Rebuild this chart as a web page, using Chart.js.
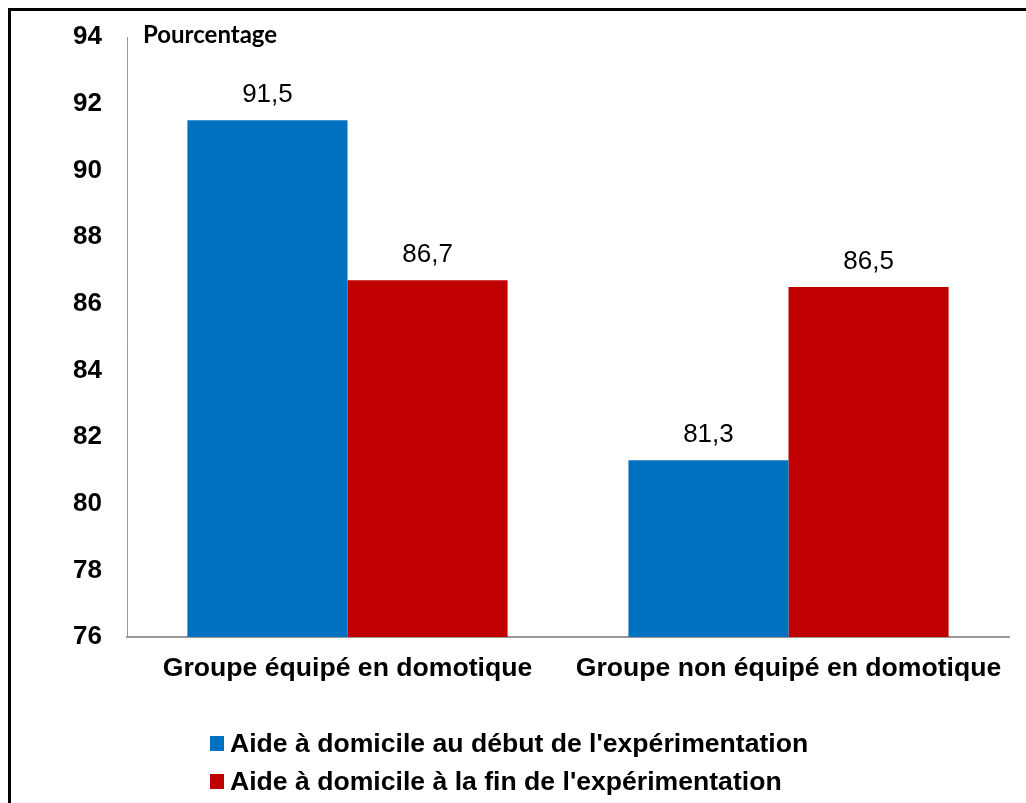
<!DOCTYPE html>
<html>
<head>
<meta charset="utf-8">
<script src="https://cdn.jsdelivr.net/npm/chart.js@4"></script>
<style>
    html, body { margin: 0; background: #fff; overflow: hidden; }
</style>
</head>
<body>
<canvas id="chart" width="1026" height="803"></canvas>
<script>
    const categories = ["Groupe équipé en domotique", "Groupe non équipé en domotique"];
    const series_labels = ["Aide à domicile au début de l'expérimentation", "Aide à domicile à la fin de l'expérimentation"];
    const debut_values = [91.5, 81.3];
    const fin_values = [86.7, 86.5];
    const y_ticks = [76, 78, 80, 82, 84, 86, 88, 90, 92, 94];

    const font_family = "'Liberation Sans', Arial, sans-serif";
    Chart.defaults.font.family = font_family;
    Chart.defaults.color = "#000";

    function fmt(v) {
        return v.toFixed(1).replace('.', ',');
    }

    // black frame, only top and left edges are inside the picture
    const frame = {
        id: 'frame',
        beforeDraw(chart) {
            const ctx = chart.ctx;
            ctx.save();
            ctx.fillStyle = "#000";
            ctx.fillRect(8, 8, chart.width - 8, 3);
            ctx.fillRect(8, 8, 3, chart.height - 8);
            ctx.restore();
        }
    };

    // value labels above each bar
    const bar_labels = {
        id: 'bar_labels',
        afterDatasetsDraw(chart) {
            const ctx = chart.ctx;
            ctx.save();
            ctx.font = "26px " + font_family;
            ctx.fillStyle = "#000";
            ctx.textAlign = "center";
            ctx.textBaseline = "alphabetic";
            chart.data.datasets.forEach(function (ds, i) {
                chart.getDatasetMeta(i).data.forEach(function (bar, j) {
                    ctx.fillText(fmt(ds.data[j]), bar.x, bar.y - 18);
                });
            });
            ctx.restore();
        }
    };

    // axis title and stacked legend
    const extras = {
        id: 'extras',
        afterDraw(chart) {
            const ctx = chart.ctx;
            const area = chart.chartArea;
            ctx.save();
            ctx.fillStyle = "#000";
            ctx.font = "bold 24px Lato, 'Open Sans', sans-serif";
            ctx.textAlign = "left";
            ctx.textBaseline = "alphabetic";
            ctx.fillText("Pourcentage", area.left + 16, area.top + 6);

            ctx.font = "bold 26.6px " + font_family;
            ctx.textBaseline = "middle";
            chart.data.datasets.forEach(function (ds, i) {
                const y = area.bottom + 106 + i * 38;
                ctx.fillStyle = ds.backgroundColor;
                ctx.fillRect(area.left + 83, y - 7, 14, 15);
                ctx.fillStyle = "#000";
                ctx.fillText(ds.label, area.left + 103, y + 2);
            });
            ctx.restore();
        }
    };

    new Chart(document.getElementById("chart"), {
        type: "bar",
        data: {
            labels: categories,
            datasets: [
                { label: series_labels[0], data: debut_values, backgroundColor: "#0070C0" },
                { label: series_labels[1], data: fin_values, backgroundColor: "#C00000" }
            ]
        },
        options: {
            responsive: false,
            animation: false,
            layout: { padding: { left: 0, top: 37, right: 17, bottom: 106 } },
            datasets: { bar: { categoryPercentage: 0.726, barPercentage: 1.0 } },
            plugins: {
                legend: { display: false },
                tooltip: { enabled: false }
            },
            scales: {
                x: {
                    grid: { display: false, drawTicks: false },
                    border: { display: true, color: "#999", width: 2 },
                    ticks: { font: { size: 26.6, weight: "bold" }, padding: 16, maxRotation: 0 },
                    afterFit(scale) { scale.height = 60; }
                },
                y: {
                    min: 76,
                    max: 94,
                    grid: { display: false, drawTicks: false },
                    border: { display: true, color: "#999", width: 1 },
                    afterBuildTicks(scale) { scale.ticks = y_ticks.map(v => ({ value: v })); },
                    ticks: { font: { size: 26, weight: "bold" }, padding: 25 },
                    afterFit(scale) {
                        scale.width = 127;
                        scale.paddingTop = 0;
                        scale.paddingBottom = 0;
                    }
                }
            }
        },
        plugins: [frame, bar_labels, extras]
    });
</script>
</body>
</html>
